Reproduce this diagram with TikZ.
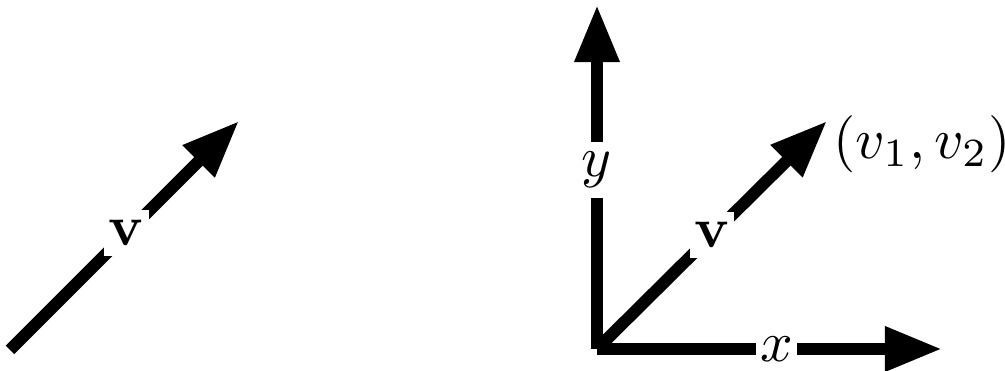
\documentclass[tikz,border=0pt]{standalone}
\usetikzlibrary{arrows.meta}
\tikzset{
  vecline/.style={-{Triangle[length=10pt, width=7.4pt]}, line width=2.1pt, draw=black},
  axisline/.style={-{Triangle[length=10pt, width=7.4pt]}, line width=2.1pt, draw=black},
  lbl/.style={fill=white, inner xsep=0.8pt, inner ysep=1.8pt, font=\normalsize},
  pointlbl/.style={inner sep=0pt, font=\normalsize}
}
\begin{document}
\begin{tikzpicture}[x=0.175pt,y=-0.175pt]
  \useasboundingbox (0,0) rectangle (1005,371);

  % free vector
  \coordinate (freestart) at (10,350);
  \coordinate (freetip) at (239,121);
  \draw[vecline] (freestart) -- node[lbl, pos=.51] (freev) {$\mathbf{v}$} (freetip);

  % vector in the plane
  \coordinate (origin) at (597,349);
  \coordinate (ytip) at (597,5);
  \coordinate (xtip) at (942,349);
  \coordinate (vtip) at (827,121);
  \node[pointlbl] (vcoord) at (922,144) {$(v_1,v_2)$};

  \draw[axisline] (origin) -- node[lbl, pos=.52] (ylbl) {$y$} (ytip);
  \draw[axisline] (origin) -- node[lbl, pos=.52] (xlbl) {$x$} (xtip);
  \draw[vecline] (origin) -- node[lbl, pos=.5] (vlbl) {$\mathbf{v}$} (vtip);
\end{tikzpicture}
\end{document}
